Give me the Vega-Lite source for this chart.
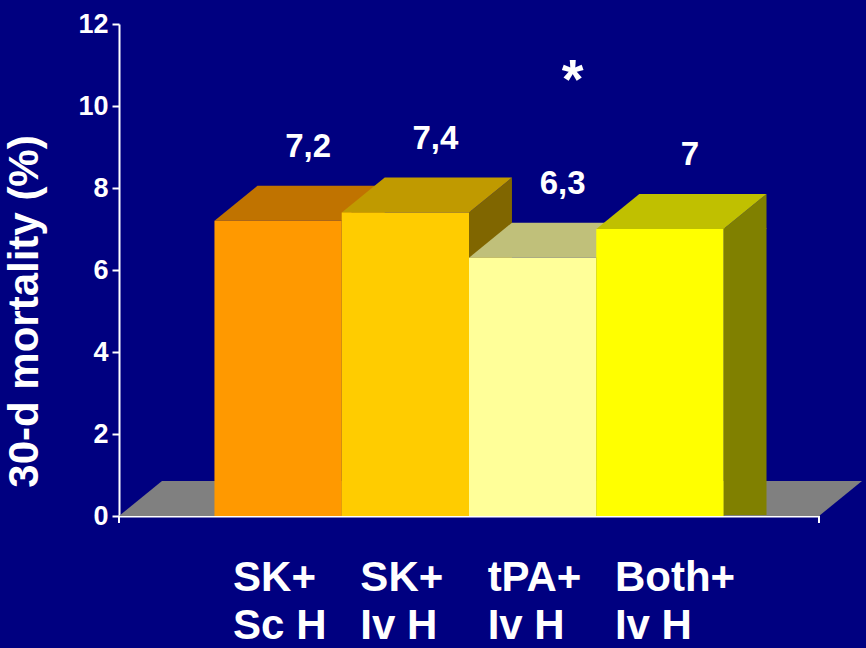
{
  "$schema": "https://vega.github.io/schema/vega-lite/v6.json",
  "width": 700,
  "height": 492,
  "autosize": {"type": "none"},
  "padding": {"left": 119, "top": 24, "right": 47, "bottom": 132},
  "background": "#000080",
  "data": {
    "values": [
      {"group": "SK+|Sc H", "mortality": 7.2, "sig": ""},
      {"group": "SK+|Iv H", "mortality": 7.4, "sig": ""},
      {"group": "tPA+|Iv H", "mortality": 6.3, "sig": "*"},
      {"group": "Both+|Iv H", "mortality": 7.0, "sig": ""}
    ]
  },
  "encoding": {
    "x": {
      "field": "group",
      "type": "nominal",
      "sort": null,
      "scale": {"paddingInner": 0, "paddingOuter": 0.75},
      "axis": {
        "title": null,
        "labelExpr": "split(datum.label, '|')",
        "labelAngle": 0,
        "labelAlign": "left",
        "labelBaseline": "alphabetic",
        "labelOffset": -45,
        "labelPadding": 74,
        "labelLineHeight": 48,
        "labelFontSize": 42,
        "labelFontWeight": "bold",
        "labelColor": "white",
        "labelOverlap": false,
        "labelBound": false,
        "labelFlush": false,
        "ticks": false,
        "domainColor": "white",
        "domainWidth": 2
      }
    },
    "y": {
      "field": "mortality",
      "type": "quantitative",
      "scale": {"domain": [0, 12], "nice": false},
      "axis": {
        "title": "30-d mortality (%)",
        "values": [0, 2, 4, 6, 8, 10, 12],
        "grid": false,
        "domainColor": "white",
        "domainWidth": 2,
        "tickColor": "white",
        "tickWidth": 2,
        "tickSize": 7,
        "labelPadding": 4,
        "labelFontSize": 27,
        "labelFontWeight": "bold",
        "labelColor": "white",
        "titleFontSize": 42,
        "titleFontWeight": "bold",
        "titleColor": "white",
        "titleAngle": 270,
        "titleAlign": "center",
        "titleBaseline": "alphabetic",
        "titleX": -82,
        "titleY": 287
      }
    }
  },
  "layer": [
    {
      "transform": [{"filter": "datum.group == 'SK+|Sc H'"}],
      "mark": {"type": "point", "shape": "M -159.1 0 L -116.1 -35 L 583.9 -35 L 540.9 0 Z", "size": 4, "filled": true, "opacity": 1, "strokeWidth": 0, "fill": "#808080"},
      "encoding": {
        "y": {"datum": 0}
      }
    },
    {
      "transform": [{"filter": "datum.group == 'SK+|Sc H'"}],
      "mark": {"type": "point", "shape": "M -159.1 0 L -159.1 7 M 540.9 0 L 540.9 7", "size": 4, "filled": false, "opacity": 1, "strokeWidth": 2, "stroke": "white"},
      "encoding": {
        "y": {"datum": 0}
      }
    },
    {
      "mark": {"type": "point", "shape": "M 63.6 0 L 106.6 -35 L 106.6 0 Z", "size": 4, "filled": true, "opacity": 1, "strokeWidth": 0},
      "encoding": {
        "color": {
          "field": "group", "type": "nominal", "sort": null, "legend": null,
          "scale": {"range": ["#804C00", "#806600", "#80804C", "#808000"]}
        }
      }
    },
    {
      "mark": {"type": "bar", "width": 43, "xOffset": 85.1, "yOffset": -1, "y2Offset": -34},
      "encoding": {
        "color": {
          "field": "group", "type": "nominal", "sort": null, "legend": null,
          "scale": {"range": ["#804C00", "#806600", "#80804C", "#808000"]}
        }
      }
    },
    {
      "mark": {"type": "point", "shape": "M 63.6 -35 L 106.6 -35 L 63.6 0 Z", "size": 4, "filled": true, "opacity": 1, "strokeWidth": 0},
      "encoding": {
        "y": {"datum": 0},
        "color": {
          "field": "group", "type": "nominal", "sort": null, "legend": null,
          "scale": {"range": ["#804C00", "#806600", "#80804C", "#808000"]}
        }
      }
    },
    {
      "mark": {"type": "point", "shape": "M -63.6 0 L 63.6 0 L 106.6 -35 L -20.6 -35 Z", "size": 4, "filled": true, "opacity": 1, "strokeWidth": 0},
      "encoding": {
        "color": {
          "field": "group", "type": "nominal", "sort": null, "legend": null,
          "scale": {"range": ["#C07300", "#C09A00", "#C0C07A", "#C0C000"]}
        }
      }
    },
    {
      "mark": {"type": "bar"},
      "encoding": {
        "color": {
          "field": "group", "type": "nominal", "sort": null, "legend": null,
          "scale": {"range": ["#FF9900", "#FFCC00", "#FFFF99", "#FFFF00"]}
        }
      }
    },
    {
      "mark": {"type": "text", "dx": 30, "dy": -64, "baseline": "alphabetic", "fontSize": 33, "fontWeight": "bold", "color": "white"},
      "encoding": {
        "text": {"field": "mortality", "type": "quantitative", "format": ".1~f"}
      }
    },
    {
      "transform": [{"filter": "datum.sig != ''"}],
      "mark": {"type": "text", "dx": 40, "baseline": "alphabetic", "fontSize": 56, "fontWeight": "bold", "color": "white"},
      "encoding": {
        "y": {"datum": 10.2},
        "text": {"field": "sig"}
      }
    }
  ],
  "resolve": {"scale": {"color": "independent"}},
  "config": {
    "font": "Liberation Sans",
    "locale": {
      "number": {"decimal": ",", "thousands": ".", "grouping": [3], "currency": ["", " €"]}
    },
    "view": {"stroke": null}
  }
}
